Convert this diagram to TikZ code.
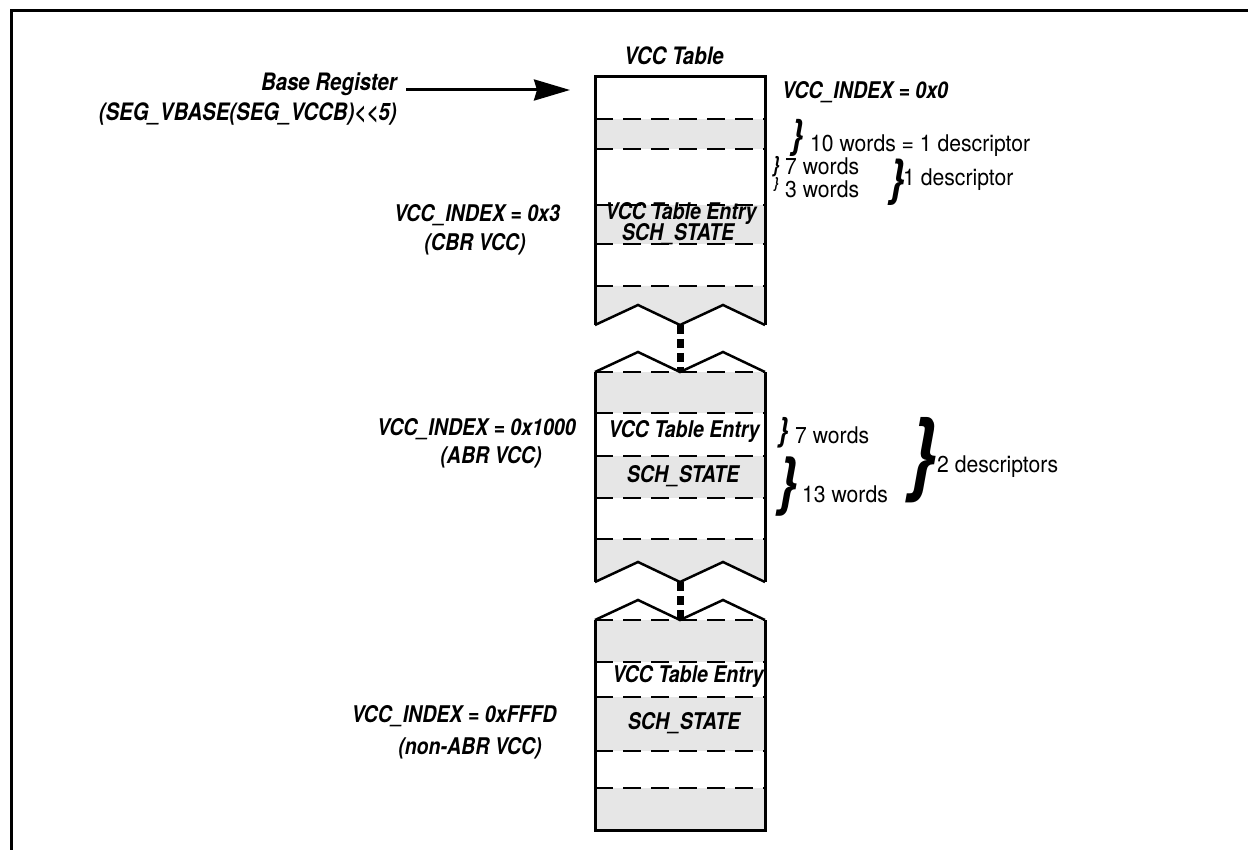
\documentclass[tikz,border=0pt]{standalone}
\usepackage{fontspec}
\setmainfont{TeX Gyre Heros}
\newfontfamily\lblfont{TeX Gyre Heros}[FakeStretch=0.85]
\newfontfamily\regfont{TeX Gyre Heros}[FakeStretch=0.92]
\usetikzlibrary{arrows.meta}
\definecolor{bandgray}{RGB}{230,230,230}
\tikzset{
  frameline/.style={line width=3pt},
  boxline/.style={line width=3pt, line join=miter},
  zigline/.style={line width=2.5pt, line join=miter},
  sepline/.style={line width=2pt, dash pattern=on 18pt off 10pt},
  dotconn/.style={line width=7pt, dash pattern=on 9pt off 5pt},
  band/.style={fill=bandgray},
  blabel/.style={font=\lblfont\fontsize{23}{27}\selectfont\bfseries\itshape, inner sep=0pt},
  bigblabel/.style={font=\lblfont\fontsize{24}{28}\selectfont\bfseries\itshape, inner sep=0pt},
  rlabel/.style={font=\regfont\fontsize{23}{27}\selectfont, inner sep=0pt},
  bracefont/.style={font=\lblfont\fontsize{#1}{#1}\selectfont\bfseries\itshape, inner sep=0pt},
}
\begin{document}
\begin{tikzpicture}[x=1pt,y=-1pt]
\useasboundingbox (0,0) rectangle (1248,850);
% outer frame
\draw[frameline] (11,850) -- (11,11) -- (1248,11);

% ---------- box 1 ----------
\fill[band] (595,119) rectangle (765,149);
\fill[band] (595,205) rectangle (765,244);
\fill[band] (595,286) -- (765,286) -- (765,325) -- (723,305) -- (680,325) -- (638,305) -- (595,325) -- cycle;
\foreach \yy in {119,149,205,244,286} \draw[sepline] (595,\yy) -- (765,\yy);
\draw[boxline] (595,325) -- (595,77) -- (765,77) -- (765,325);
\draw[zigline] (595,325) -- (638,305) -- (680,325) -- (723,305) -- (765,325);
\coordinate (b1bot) at (680,325);

% ---------- box 2 ----------
\fill[band] (595,372) rectangle (765,413);
\fill[band] (595,456) rectangle (765,498);
\fill[band] (595,539) -- (765,539) -- (765,582) -- (723,562) -- (680,582) -- (638,562) -- (595,582) -- cycle;
\foreach \yy in {372,413,456,498,539} \draw[sepline] (595,\yy) -- (765,\yy);
\draw[boxline] (595,372) -- (595,582);
\draw[boxline] (765,372) -- (765,582);
\draw[zigline] (595,372) -- (638,352) -- (680,372) -- (723,352) -- (765,372);
\draw[zigline] (595,582) -- (638,562) -- (680,582) -- (723,562) -- (765,582);
\coordinate (b2top) at (680,372);
\coordinate (b2bot) at (680,582);

% ---------- box 3 ----------
\fill[band] (595,620) rectangle (765,662);
\fill[band] (595,697) rectangle (765,751);
\fill[band] (595,788) rectangle (765,830);
\foreach \yy in {620,662,697,751,788} \draw[sepline] (595,\yy) -- (765,\yy);
\draw[boxline] (595,620) -- (595,830) -- (765,830) -- (765,620);
\draw[zigline] (595,620) -- (638,600) -- (680,620) -- (723,600) -- (765,620);
\coordinate (b3top) at (680,620);

% dotted connectors
\draw[dotconn] (b1bot) -- (b2top);
\draw[dotconn] (b2bot) -- (b3top);

% title and base register
\node[bigblabel] (title) at (674,56) {VCC Table};
\node[bigblabel, anchor=east] (basereg) at (397,84) {Base Register};
\node[bigblabel, anchor=east] (segv) at (397,114) {(SEG\_VBASE(SEG\_VCCB)\char"003C\kern0.5pt\char"003C 5)};
\coordinate (arrS) at (406,90);
\coordinate (arrE) at (570,90);
\draw[line width=3pt, -{Stealth[length=36pt,width=21pt,inset=3pt]}] (arrS) -- (arrE);
\node[blabel, anchor=west] (idx0) at (782,92) {VCC\_INDEX = 0x0};

% box texts
\node[blabel] (e1) at (681,213) {VCC Table Entry};
\node[blabel] (s1) at (678,234) {SCH\_STATE};
\node[blabel] (e2) at (684,431) {VCC Table Entry};
\node[blabel] (s2) at (683,476) {SCH\_STATE};
\node[blabel] (e3) at (688,676) {VCC Table Entry};
\node[blabel] (s3) at (684,723) {SCH\_STATE};

% left labels
\node[blabel] (idx3) at (477,215) {VCC\_INDEX = 0x3};
\node[blabel] (cbr) at (475,244) {(CBR VCC)};
\node[blabel, anchor=west] (idx1000) at (377,429) {VCC\_INDEX = 0x1000};
\node[blabel] (abr) at (491,457) {(ABR VCC)};
\node[blabel] (idxf) at (454,716) {VCC\_INDEX = 0xFFFD};
\node[blabel] (nabr) at (470,748) {(non-ABR VCC)};

% right annotations
\node[bracefont=40] (br1) at (797,138) {\}};
\node[rlabel, anchor=west] (w10) at (810,146) {10 words = 1 descriptor};
\node[bracefont=22] (br2) at (776,167) {\}};
\node[rlabel, anchor=west] (w7a) at (785,166) {7 words};
\node[bracefont=15] (br3) at (776,185) {\}};
\node[rlabel, anchor=west] (w3) at (785,189) {3 words};
\node[bracefont=50] (br4) at (897,182) {\}};
\node[rlabel, anchor=west] (d1) at (903,180) {1 descriptor};
\node[bracefont=33] (br5) at (783,433) {\}};
\node[rlabel, anchor=west] (w7b) at (795,435) {7 words};
\node[bracefont=64] (br6) at (787,487) {\}};
\node[rlabel, anchor=west] (w13) at (802,494) {13 words};
\node[bracefont=92] (br7) at (922,460) {\}};
\node[rlabel, anchor=west] (d2) at (937,467) {2 descriptors};
\end{tikzpicture}
\end{document}
